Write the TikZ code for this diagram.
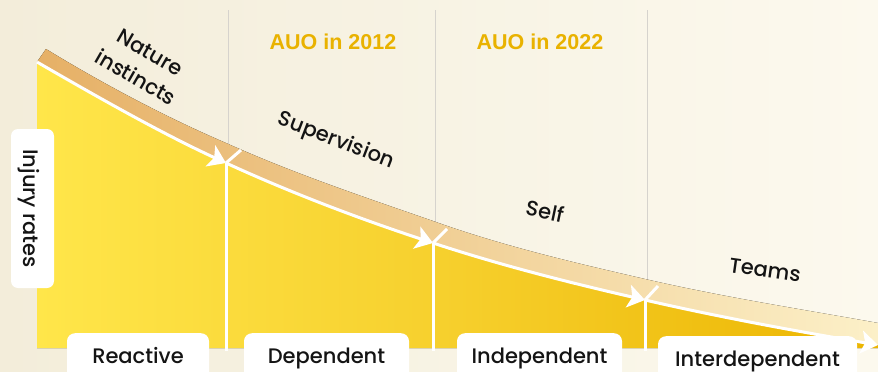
\documentclass[tikz,border=0pt]{standalone}
\usepackage{fontspec}
\setmainfont{Poppins Medium}
\newfontfamily\auofont{Liberation Sans}
\usetikzlibrary{arrows.meta,calc}
\definecolor{bgL}{HTML}{F3EDDA}
\definecolor{bgR}{HTML}{FCF9EE}
\definecolor{ylL}{HTML}{FFE64A}
\definecolor{ylM}{HTML}{F6CF2C}
\definecolor{ylR}{HTML}{ECB500}
\definecolor{bdL}{HTML}{E6B066}
\definecolor{bdM}{HTML}{F0CB88}
\definecolor{bdR}{HTML}{FCF0C8}
\definecolor{gold}{HTML}{E9B200}
\definecolor{gridc}{HTML}{D6D3CD}
\definecolor{ink}{HTML}{141414}
\begin{document}
\begin{tikzpicture}[x=1pt,y=-1pt,
  lbl/.style={font=\fontsize{21}{29}\selectfont, text=ink},
  stagebox/.style={lbl, fill=white, rounded corners=8pt, minimum height=48pt, text height=16pt, text depth=3pt, inner sep=0pt, anchor=north},
  auo/.style={font=\auofont\bfseries\fontsize{21.5}{26}\selectfont, text=gold},
  curveseg/.style={white, line width=3pt, -{Stealth[length=17pt,width=23pt,inset=4pt]}},
  divider/.style={white, line width=3pt},
  gridline/.style={gridc, line width=1pt}]
\useasboundingbox (0,0) rectangle (878,372);
\clip (0,0) rectangle (878,372);
\fill[left color=bgL, right color=bgR] (0,0) rectangle (878,372);

\coordinate (p0) at (37,62);
\coordinate (p1) at (226,163);
\coordinate (p2) at (433,243);
\coordinate (p3) at (645,300);
\coordinate (p4) at (878,345);

% grid lines
\coordinate (g1t) at (228,10); \coordinate (g1b) at (228,160);
\coordinate (g2t) at (435,10); \coordinate (g2b) at (435,240);
\coordinate (g3t) at (647,10); \coordinate (g3b) at (647,298);
\draw[gridline] (g1t) -- (g1b);
\draw[gridline] (g2t) -- (g2b);
\draw[gridline] (g3t) -- (g3b);

% yellow area
\fill[left color=ylL, right color=ylR, middle color=ylM]
  (p0) .. controls (100,98.5) and (163,134) .. (p1)
       .. controls (295,194.7) and (364,220.2) .. (p2)
       .. controls (503.7,266.3) and (574.3,283.7) .. (p3)
       .. controls (722.7,317.9) and (800.3,331.8) .. (p4)
  -- (878,348) -- (37,348) -- cycle;

% band
\fill[left color=bdL, middle color=bdM, right color=bdR]
  (p0) .. controls (100,98.5) and (163,134) .. (p1)
       .. controls (295,194.7) and (364,220.2) .. (p2)
       .. controls (503.7,266.3) and (574.3,283.7) .. (p3)
       .. controls (722.7,317.9) and (800.3,331.8) .. (p4)
  -- (878,323) .. controls (800.3,309) and (722.7,297) .. (645,279)
  .. controls (574.3,262.7) and (503.7,246.3) .. (433,221)
  .. controls (364,197) and (295,174) .. (226,143)
  .. controls (163,116) and (100,82) .. (46,49) -- cycle;

% dividers
\coordinate (d1) at (226,351);
\coordinate (d2) at (433,351);
\coordinate (d3) at (645,351);
\draw[divider] (p1) -- (d1);
\draw[divider] (p2) -- (d2);
\draw[divider] (p3) -- (d3);
\draw[divider] (p1) -- ++(15,-13);
\draw[divider] (p2) -- ++(14,-14);
\draw[divider] (p3) -- ++(13,-14);

% curve with arrows
\draw[curveseg] (p0) .. controls (100,98.5) and (163,134) .. (p1);
\draw[curveseg] (p1) .. controls (295,194.7) and (364,220.2) .. (p2);
\draw[curveseg] (p2) .. controls (503.7,266.3) and (574.3,283.7) .. (p3);
\draw[curveseg] (p3) .. controls (722.7,317.9) and (800.3,331.8) .. (p4);

% stage boxes
\node[stagebox, minimum width=142pt] (reactive) at (138,333) {Reactive};
\node[stagebox, minimum width=165pt] (dependent) at (326.5,333) {Dependent};
\node[stagebox, minimum width=165pt] (independent) at (539.5,333) {Independent};
\node[stagebox, minimum width=199pt] (interdependent) at (757.5,336) {Interdependent};

% y-axis label
\node[lbl, fill=white, rounded corners=7pt, rotate=-90, minimum width=159pt, minimum height=43pt, text height=18pt, text depth=0pt, inner sep=0pt] (injury) at (32.5,208.5) {Injury rates};

% curve labels
\node[lbl, rotate=-30, align=center] (nature) at (143,65) {Nature\\instincts};
\node[lbl, rotate=-21] (supervision) at (336,141) {Supervision};
\node[lbl, rotate=-12] (self) at (545,211) {Self};
\node[lbl, rotate=-8] (teams) at (765,270) {Teams};

\node[auo] (auo12) at (333,42) {AUO in 2012};
\node[auo] (auo22) at (540,42) {AUO in 2022};
\end{tikzpicture}
\end{document}
